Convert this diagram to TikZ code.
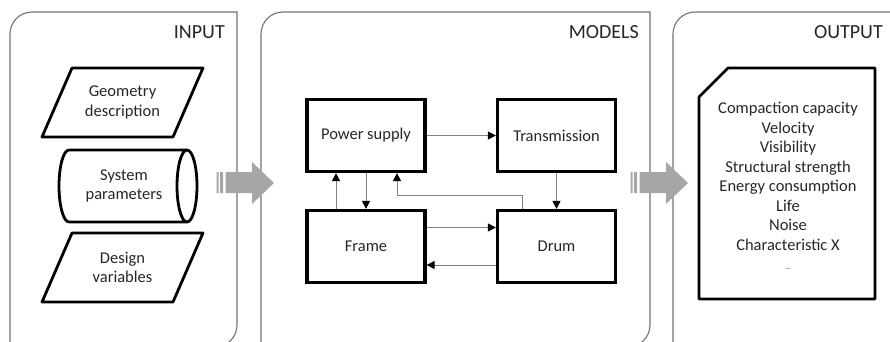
\documentclass[tikz,border=0pt]{standalone}
\usepackage{fontspec}
\setmainfont{Carlito}
\usetikzlibrary{arrows.meta}
\def\panel#1#2{(#1,350) -- (#1,34) arc[start angle=180,end angle=270,radius=22] -- (#2,12)
	-- (#2,325) arc[start angle=0,end angle=90,radius=22] -- (#1,347)}
\def\slab#1{(72,#1) -- (203,#1) -- (173,#1+69) -- (42,#1+69) -- cycle}
\def\stripes{(216.5,172) rectangle (218.5,193) (220,172) rectangle (223,193)}
\def\fatarrow{(225.5,172) -- (252,172) -- (252,162) -- (274,183) -- (252,204) -- (252,193) -- (225.5,193) -- cycle}
\tikzset{
	txt/.style = {font=\fontsize{16.5}{19.5}\selectfont, align=center, text=black!85},
	head/.style = {font=\fontsize{20}{24}\selectfont, text=black!85, anchor=base east, inner sep=0},
	block/.style = {txt, draw, line width=3.2pt, minimum width=118, minimum height=72},
	outline/.style = {line width=2.8pt, line join=round},
	link/.style = {draw=black!50, line width=1pt, -{Triangle[color=black,length=8pt,width=8pt]}}
}
\begin{document}
\begin{tikzpicture}[x=1pt, y=-1pt]
	\useasboundingbox (0,0) rectangle (890,342);
	% panels
	\draw[black!55, line width=1.1pt] \panel{10}{237} \panel{261}{650} \panel{673}{915};
	\node[head] (lin) at (225,39) {INPUT};
	\node[head] (lmod) at (639,39) {MODELS};
	\node[head] (lout) at (883,39) {OUTPUT};
	% input
	\draw[outline] \slab{68} \slab{233};
	\draw[outline] (69,150) -- (187,150) (69,222) -- (187,222)
		(69,222) arc[start angle=90,end angle=270,x radius=10,y radius=36]
		(187,186) ellipse[x radius=10,y radius=36];
	\node[txt] (geo) at (122.5,102.5) {Geometry\\description};
	\node[txt] (sys) at (124,186) {System\\parameters};
	\node[txt] (des) at (122.5,267.5) {Design\\variables};
	% big arrows
	\fill[black!35] \stripes \fatarrow;
	\fill[black!35, xshift=414] \stripes \fatarrow;
	% models
	\node[block] (pow) at (366,135.5) {Power supply};
	\node[block] (tra) at (556.5,135.5) {Transmission};
	\node[block] (frm) at (366,246.5) {Frame};
	\node[block] (drm) at (556.5,246.5) {Drum};
	\draw[link] (pow) -- (tra);
	\draw[link] (tra) -- (drm);
	\draw[link] (pow) -- (frm);
	\draw[link] ([xshift=-30]frm.north) -- ([xshift=-30]pow.south);
	\draw[link] ([xshift=-34]drm.north) -- ++(0,-13) -| ([xshift=31]pow.south);
	\draw[link] ([yshift=19]frm.east) -- ([yshift=19]drm.west);
	\draw[link] ([yshift=-18.5]drm.west) -- ([yshift=-18.5]frm.east);
	% output
	\draw[outline] (699,97) -- (728,68) -- (875,68) -- (875,299) -- (699,299) -- cycle;
	\node[txt] (res) at (788,186)
		{Compaction capacity\\Velocity\\Visibility\\Structural strength\\Energy consumption\\Life\\Noise\\Characteristic X\\\scriptsize\ldots};
\end{tikzpicture}
\end{document}
